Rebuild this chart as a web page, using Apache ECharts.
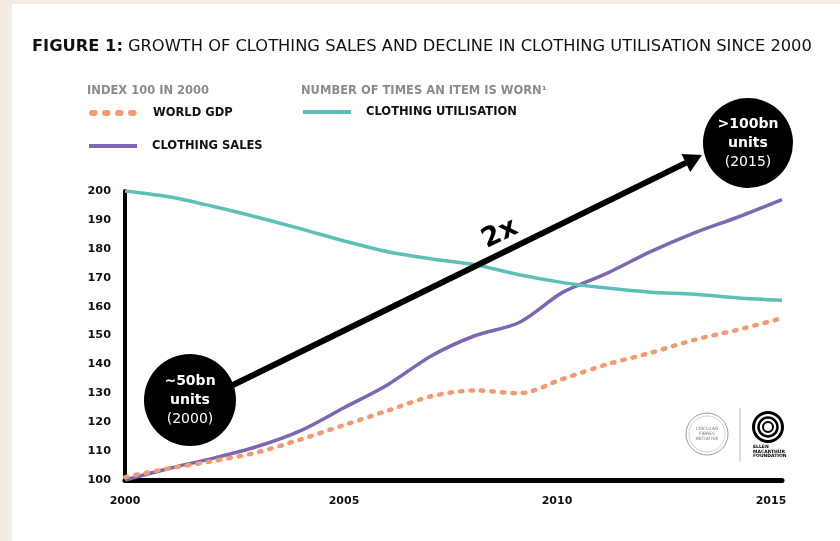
<!DOCTYPE html>
<html>
<head>
<meta charset="utf-8">
<script src="https://cdn.jsdelivr.net/npm/echarts@6/dist/echarts.min.js"></script>
<style>
html,body{margin:0;padding:0;background:#ffffff;}
#chart{width:840px;height:541px;}
</style>
</head>
<body>
<div id="chart"></div>
<script>
const years = [2000,2001,2002,2003,2004,2005,2006,2007,2008,2009,2010,2011,2012,2013,2014,2015];
const worldGdp = [101,104,106.5,109.5,114,119,124,129,131,130,135,140,144,148.5,152,156];
const clothingSales = [100,104,107.5,111.5,117,125,133,143,150,154.5,165,171.5,179,185.5,191,197];
const clothingUtilisation = [200,198,194.7,191,187,182.7,179,176.5,174.5,171,168.3,166.4,165,164.3,163,162.2];
const xTicks = [2000,2005,2010,2015];
const yTicks = [100,110,120,130,140,150,160,170,180,190,200];

const FONT = 'DejaVu Sans';
const pairs = arr => years.map((y,i)=>[y,arr[i]]);

const chart = echarts.init(document.getElementById('chart'), null, {renderer:'canvas'});

// arrow geometry (annotation)
const a0 = [233,385], a1 = [702,155];
const dx = a1[0]-a0[0], dy = a1[1]-a0[1], L = Math.hypot(dx,dy);
const ux = dx/L, uy = dy/L, px = -uy, py = ux;
const hl = 18, hw = 10;
const base = [a1[0]-ux*hl, a1[1]-uy*hl];

const legendText = {fontFamily:FONT,fontWeight:'bold',fontSize:11.5,color:'#111',padding:[0,0,0,10]};
const xLab = {fontFamily:FONT,fontWeight:'bold',fontSize:11,color:'#111'};

chart.setOption({
  backgroundColor:'#ffffff',
  animation:false,
  title:{
    left:32, top:38, padding:0,
    text:'{b|FIGURE 1:} {r|GROWTH OF CLOTHING SALES AND DECLINE IN CLOTHING UTILISATION SINCE 2000}',
    textStyle:{
      rich:{
        b:{fontFamily:FONT,fontWeight:'bold',fontSize:16.3,color:'#111'},
        r:{fontFamily:FONT,fontWeight:'normal',fontSize:16.3,color:'#111'}
      }
    }
  },
  legend:[
    {data:['WORLD GDP'],left:89,top:107,padding:0,itemWidth:46,itemHeight:14,
     itemStyle:{opacity:0},lineStyle:{width:6,type:[2.5,10.5],cap:'round'},textStyle:legendText},
    {data:['CLOTHING SALES'],left:87,top:140,padding:0,itemWidth:48,itemHeight:14,
     itemStyle:{opacity:0},lineStyle:{width:4},textStyle:legendText},
    {data:['CLOTHING UTILISATION'],left:301,top:106,padding:0,itemWidth:48,itemHeight:14,
     itemStyle:{opacity:0},lineStyle:{width:4},textStyle:legendText}
  ],
  grid:{left:125,right:58,top:191,bottom:61,containLabel:false},
  xAxis:{
    type:'value',min:xTicks[0],max:xTicks[xTicks.length-1],interval:5,
    axisLine:{show:true,lineStyle:{color:'#000',width:5}},
    axisTick:{show:false},splitLine:{show:false},
    axisLabel:{
      formatter:v=> v===2015 ? '{e|2015}' : (v===2010 ? '{d|2010}' : '{n|'+v+'}'),
      margin:16,
      rich:{
        n:xLab,
        d:Object.assign({padding:[0,12,0,0]},xLab),
        e:Object.assign({padding:[0,22,0,0]},xLab)
      }
    }
  },
  yAxis:{
    type:'value',min:yTicks[0],max:yTicks[yTicks.length-1],interval:10,
    axisLine:{show:true,lineStyle:{color:'#000',width:4}},
    axisTick:{show:false},splitLine:{show:false},
    axisLabel:{fontFamily:FONT,fontWeight:'bold',fontSize:11.3,color:'#111',margin:14}
  },
  series:[
    {name:'WORLD GDP',type:'line',data:pairs(worldGdp),symbol:'none',smooth:0.3,z:3,
     lineStyle:{color:'#f39a6e',width:4.5,type:[2.5,8],cap:'round'},itemStyle:{color:'#f39a6e'}},
    {name:'CLOTHING SALES',type:'line',data:pairs(clothingSales),symbol:'none',smooth:0.3,z:2,
     lineStyle:{color:'#7d67b2',width:3.5},itemStyle:{color:'#7d67b2'}},
    {name:'CLOTHING UTILISATION',type:'line',data:pairs(clothingUtilisation),symbol:'none',smooth:0.3,z:2,
     lineStyle:{color:'#5cc0b6',width:3.5},itemStyle:{color:'#5cc0b6'}}
  ],
  graphic:[
    {type:'rect',shape:{x:0,y:0,width:840,height:4},style:{fill:'#f3ece5'},silent:true},
    {type:'rect',shape:{x:0,y:0,width:12,height:541},style:{fill:'#f3ece5'},silent:true},
    {type:'text',left:87,top:85,style:{text:'INDEX 100 IN 2000',fontFamily:FONT,fontWeight:'bold',fontSize:11.5,fill:'#8b8b8b'}},
    {type:'text',left:301,top:85,style:{text:'NUMBER OF TIMES AN ITEM IS WORN¹',fontFamily:FONT,fontWeight:'bold',fontSize:11.5,fill:'#8b8b8b'}},
    // arrow
    {type:'line',z:10,shape:{x1:a0[0],y1:a0[1],x2:base[0],y2:base[1]},style:{stroke:'#000',lineWidth:6}},
    {type:'polygon',z:10,shape:{points:[[a1[0],a1[1]],[base[0]+px*hw,base[1]+py*hw],[base[0]-px*hw,base[1]-py*hw]]},style:{fill:'#000'}},
    {type:'text',z:11,x:500,y:234,rotation:26*Math.PI/180,
     style:{text:'2x',fontFamily:FONT,fontWeight:'bold',fontSize:27,fill:'#000',align:'center',verticalAlign:'middle'}},
    // circles
    {type:'circle',z:12,shape:{cx:190,cy:400,r:46},style:{fill:'#000'}},
    {type:'text',z:13,x:190,y:400,style:{text:'{b|~50bn}\n{b|units}\n{r|(2000)}',align:'center',verticalAlign:'middle',
      rich:{b:{fontFamily:FONT,fontWeight:'bold',fontSize:14,fill:'#fff',color:'#fff',lineHeight:19,align:'center'},
            r:{fontFamily:FONT,fontSize:14,fill:'#fff',color:'#fff',lineHeight:19,align:'center'}}}},
    {type:'circle',z:12,shape:{cx:748,cy:143,r:45},style:{fill:'#000'}},
    {type:'text',z:13,x:748,y:143,style:{text:'{b|>100bn}\n{b|units}\n{r|(2015)}',align:'center',verticalAlign:'middle',
      rich:{b:{fontFamily:FONT,fontWeight:'bold',fontSize:14,fill:'#fff',color:'#fff',lineHeight:19,align:'center'},
            r:{fontFamily:FONT,fontSize:14,fill:'#fff',color:'#fff',lineHeight:19,align:'center'}}}},
    // logos
    {type:'circle',shape:{cx:707,cy:434,r:21},style:{fill:'none',stroke:'#9a9a9a',lineWidth:1}},
    {type:'circle',shape:{cx:707,cy:434,r:18},style:{fill:'none',stroke:'#c8c8c8',lineWidth:0.8}},
    {type:'text',x:707,y:434,style:{text:'CIRCULAR\nFIBRES\nINITIATIVE',fontFamily:FONT,fontSize:4.5,lineHeight:5,fill:'#777',align:'center',verticalAlign:'middle'}},
    {type:'line',shape:{x1:740,y1:408,x2:740,y2:462},style:{stroke:'#bdbdbd',lineWidth:1}},
    {type:'circle',shape:{cx:768,cy:427,r:14.5},style:{fill:'none',stroke:'#000',lineWidth:3}},
    {type:'circle',shape:{cx:768,cy:427,r:9.5},style:{fill:'none',stroke:'#000',lineWidth:2.5}},
    {type:'circle',shape:{cx:768,cy:427,r:5},style:{fill:'none',stroke:'#000',lineWidth:2}},
    {type:'text',x:753,y:445,style:{text:'ELLEN\nMACARTHUR\nFOUNDATION',fontFamily:FONT,fontWeight:'bold',fontSize:4.5,lineHeight:4.5,fill:'#000'}}
  ]
});
</script>
</body>
</html>
